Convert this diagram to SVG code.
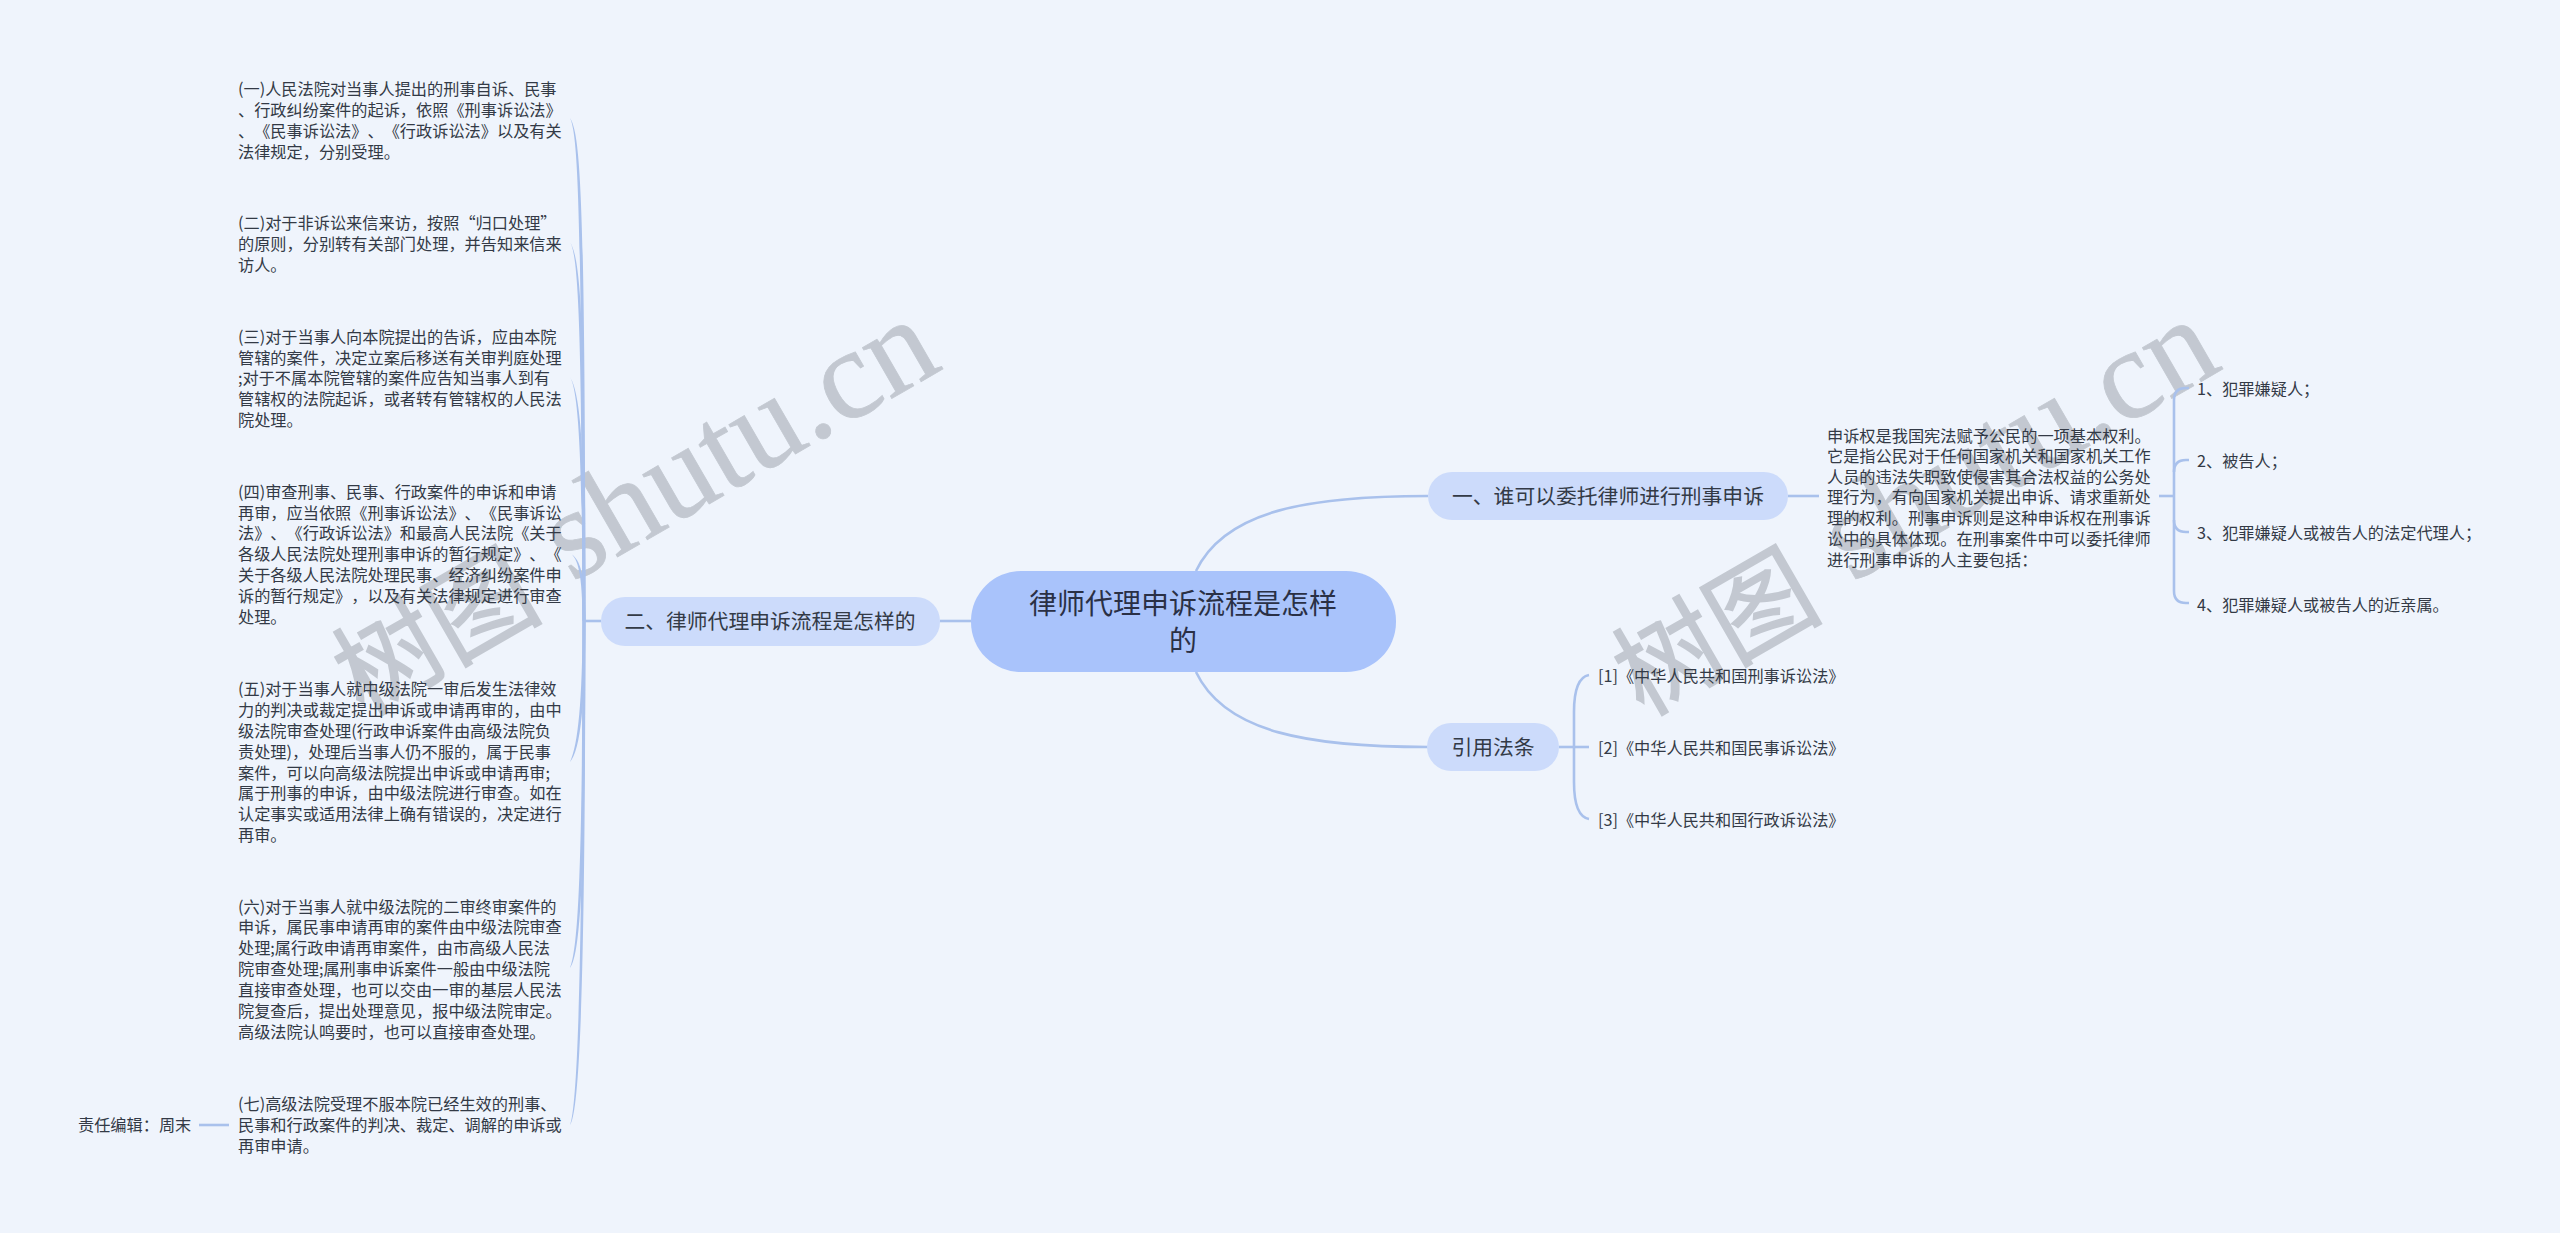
<svg xmlns="http://www.w3.org/2000/svg" width="2560" height="1233" viewBox="0 0 2560 1233">
<style>
text{font-family:"Noto Sans CJK SC","Liberation Sans",sans-serif;fill:#333a46;dominant-baseline:central;text-spacing-trim:space-all}
.t{font-size:16.2px}
.m{font-size:20.8px;text-anchor:middle}
.r{font-size:28px;text-anchor:middle;fill:#2a3045}
.c{fill:none;stroke:#a9c1ec;stroke-width:2.6}
.f{fill:#a9c1ec}
.wm{font-family:"Liberation Serif","Noto Sans CJK SC",serif;font-size:105px;fill:#8f959e;stroke:#8f959e;stroke-width:1.5;opacity:.45;dominant-baseline:auto}
.wm .la{font-size:128px;stroke-width:.8}
</style>
<rect width="2560" height="1233" fill="#eff4fc"/>
<g id="watermarks">
<text class="wm" transform="translate(363 717) rotate(-30)">树图<tspan class="la" x="248" y="-11.5">shutu.cn</tspan></text>
<text class="wm" transform="translate(1643 717) rotate(-30)">树图<tspan class="la" x="248" y="-11.5">shutu.cn</tspan></text>
</g>
<g id="connectors">
<path class="c" d="M1196 571C1225 510 1310 496 1428 496"/>
<path class="c" d="M1196 672C1225 733 1310 747 1428 747"/>
<path class="c" d="M971 621H940"/>
<path class="c" d="M601 621H584"/>
<path class="f" d="M570 118C578 135 581.5 200 582.5 621H585.5C585 200 581 135 570 118Z"/>
<path class="f" d="M570 242C578 255 582 320 582.5 621H585.5C585 320 581 260 570 242Z"/>
<path class="f" d="M570 377C578 390 582.5 450 582.5 621H585.5C585 450 581 395 570 377Z"/>
<path class="f" d="M570 553C578 558 582.5 575 582.5 621H585.5C585 575 581 560 570 553Z"/>
<path class="f" d="M570 762C578 745 582.5 700 582.5 621H585.5C585 700 581 750 570 762Z"/>
<path class="f" d="M570 968C578 950 582.5 870 582.5 621H585.5C585 870 581 955 570 968Z"/>
<path class="f" d="M570 1125C578 1105 582.5 950 582.5 621H585.5C585 950 581 1110 570 1125Z"/>
<path class="c" d="M199 1125H229"/>
<path class="c" d="M1788 496H1819"/>
<path class="c" d="M2159 496H2174"/>
<path class="c" d="M2189 388H2186Q2174 388 2174 400V591Q2174 603 2186 603H2189"/>
<path class="c" d="M2174 472Q2174 460 2186 460H2189"/>
<path class="c" d="M2174 520Q2174 532 2186 532H2189"/>
<path class="c" d="M1559 747H1589"/>
<path class="c" d="M1589 675C1578 677 1574 690 1574 712V782C1574 804 1578 817 1589 819"/>
</g>
<g id="root"><rect x="971" y="571" width="425" height="101" rx="50" fill="#a9c3fb"/>
<text class="r" x="1183" y="601.5">律师代理申诉流程是怎样</text><text class="r" x="1183" y="638.5">的</text></g>
<g id="n2"><rect x="601" y="597" width="339" height="49" rx="24" fill="#ccdbfb"/><text class="m" x="770" y="620">二、律师代理申诉流程是怎样的</text></g>
<g id="n1"><rect x="1428" y="472" width="360" height="48" rx="24" fill="#ccdbfb"/><text class="m" x="1608" y="495">一、谁可以委托律师进行刑事申诉</text></g>
<g id="n3"><rect x="1427" y="723" width="132" height="48" rx="24" fill="#ccdbfb"/><text class="m" x="1493" y="746">引用法条</text></g>
<g id="l1"><text class="t" x="238" y="88">(一)人民法院对当事人提出的刑事自诉、民事</text><text class="t" x="238" y="109">、行政纠纷案件的起诉，依照《刑事诉讼法》</text><text class="t" x="238" y="130">、《民事诉讼法》、《行政诉讼法》以及有关</text><text class="t" x="238" y="151">法律规定，分别受理。</text></g>
<g id="l2"><text class="t" x="238" y="222">(二)对于非诉讼来信来访，按照“归口处理”</text><text class="t" x="238" y="243">的原则，分别转有关部门处理，并告知来信来</text><text class="t" x="238" y="264">访人。</text></g>
<g id="l3"><text class="t" x="238" y="336">(三)对于当事人向本院提出的告诉，应由本院</text><text class="t" x="238" y="357">管辖的案件，决定立案后移送有关审判庭处理</text><text class="t" x="238" y="377">;对于不属本院管辖的案件应告知当事人到有</text><text class="t" x="238" y="398">管辖权的法院起诉，或者转有管辖权的人民法</text><text class="t" x="238" y="419">院处理。</text></g>
<g id="l4"><text class="t" x="238" y="491">(四)审查刑事、民事、行政案件的申诉和申请</text><text class="t" x="238" y="512">再审，应当依照《刑事诉讼法》、《民事诉讼</text><text class="t" x="238" y="532">法》、《行政诉讼法》和最高人民法院《关于</text><text class="t" x="238" y="553">各级人民法院处理刑事申诉的暂行规定》、《</text><text class="t" x="238" y="574">关于各级人民法院处理民事、经济纠纷案件申</text><text class="t" x="238" y="595">诉的暂行规定》，以及有关法律规定进行审查</text><text class="t" x="238" y="616">处理。</text></g>
<g id="l5"><text class="t" x="238" y="688">(五)对于当事人就中级法院一审后发生法律效</text><text class="t" x="238" y="709">力的判决或裁定提出申诉或申请再审的，由中</text><text class="t" x="238" y="730">级法院审查处理(行政申诉案件由高级法院负</text><text class="t" x="238" y="751">责处理)，处理后当事人仍不服的，属于民事</text><text class="t" x="238" y="772">案件，可以向高级法院提出申诉或申请再审;</text><text class="t" x="238" y="792">属于刑事的申诉，由中级法院进行审查。如在</text><text class="t" x="238" y="813">认定事实或适用法律上确有错误的，决定进行</text><text class="t" x="238" y="834">再审。</text></g>
<g id="l6"><text class="t" x="238" y="906">(六)对于当事人就中级法院的二审终审案件的</text><text class="t" x="238" y="926">申诉，属民事申请再审的案件由中级法院审查</text><text class="t" x="238" y="947">处理;属行政申请再审案件，由市高级人民法</text><text class="t" x="238" y="968">院审查处理;属刑事申诉案件一般由中级法院</text><text class="t" x="238" y="989">直接审查处理，也可以交由一审的基层人民法</text><text class="t" x="238" y="1010">院复查后，提出处理意见，报中级法院审定。</text><text class="t" x="238" y="1031">高级法院认鸣要时，也可以直接审查处理。</text></g>
<g id="l7"><text class="t" x="238" y="1103">(七)高级法院受理不服本院已经生效的刑事、</text><text class="t" x="238" y="1124">民事和行政案件的判决、裁定、调解的申诉或</text><text class="t" x="238" y="1145">再审申请。</text></g>
<g id="editor"><text class="t" x="78" y="1124">责任编辑：周末</text></g>
<g id="desc"><text class="t" x="1827" y="435">申诉权是我国宪法赋予公民的一项基本权利。</text><text class="t" x="1827" y="455">它是指公民对于任何国家机关和国家机关工作</text><text class="t" x="1827" y="476">人员的违法失职致使侵害其合法权益的公务处</text><text class="t" x="1827" y="496">理行为，有向国家机关提出申诉、请求重新处</text><text class="t" x="1827" y="517">理的权利。刑事申诉则是这种申诉权在刑事诉</text><text class="t" x="1827" y="538">讼中的具体体现。在刑事案件中可以委托律师</text><text class="t" x="1827" y="559">进行刑事申诉的人主要包括：</text></g>
<g id="r1"><text class="t" x="2197" y="388">1、犯罪嫌疑人；</text></g>
<g id="r2"><text class="t" x="2197" y="460">2、被告人；</text></g>
<g id="r3"><text class="t" x="2197" y="532">3、犯罪嫌疑人或被告人的法定代理人；</text></g>
<g id="r4"><text class="t" x="2197" y="604">4、犯罪嫌疑人或被告人的近亲属。</text></g>
<g id="c1"><text class="t" x="1598" y="675">[1]《中华人民共和国刑事诉讼法》</text></g>
<g id="c2"><text class="t" x="1598" y="747">[2]《中华人民共和国民事诉讼法》</text></g>
<g id="c3"><text class="t" x="1598" y="819">[3]《中华人民共和国行政诉讼法》</text></g>
</svg>
